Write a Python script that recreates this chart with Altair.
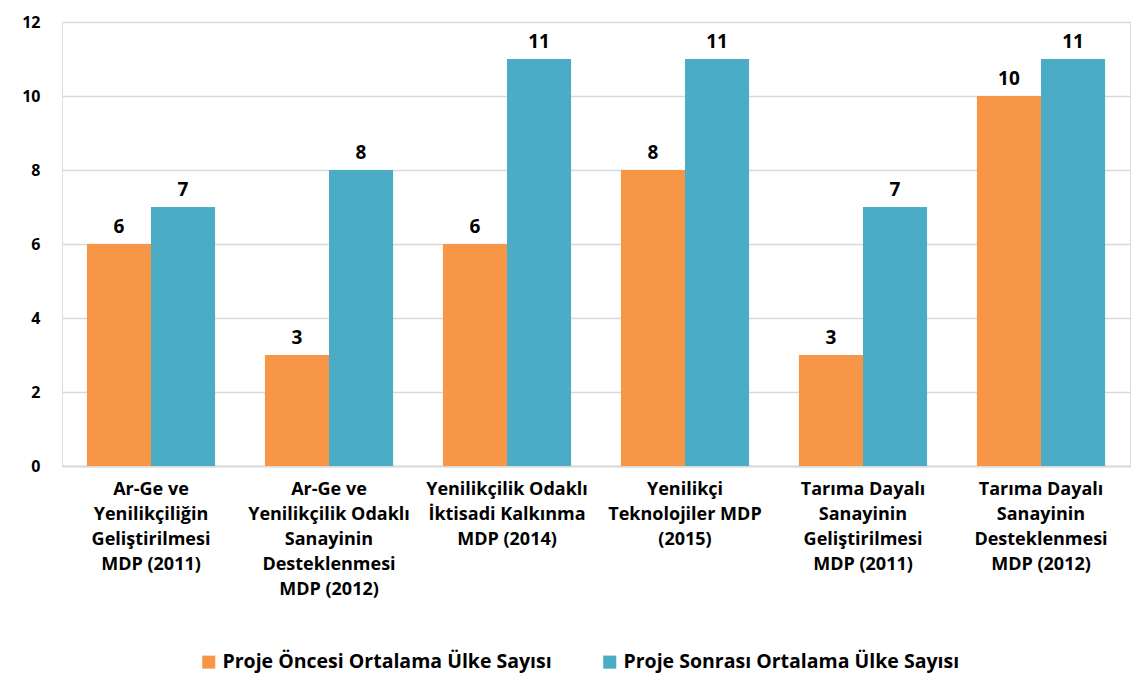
import altair as alt
import pandas as pd

categories = [
    "Ar-Ge ve|Yenilikçiliğin|Geliştirilmesi|MDP (2011)",
    "Ar-Ge ve|Yenilikçilik Odaklı|Sanayinin|Desteklenmesi|MDP (2012)",
    "Yenilikçilik Odaklı|İktisadi Kalkınma|MDP (2014)",
    "Yenilikçi|Teknolojiler MDP|(2015)",
    "Tarıma Dayalı|Sanayinin|Geliştirilmesi|MDP (2011)",
    "Tarıma Dayalı|Sanayinin|Desteklenmesi|MDP (2012)",
]
series_names = ["Proje Öncesi Ortalama Ülke Sayısı", "Proje Sonrası Ortalama Ülke Sayısı"]
before = [6, 3, 6, 8, 3, 10]
after = [7, 8, 11, 11, 7, 11]
colors = ["#F79646", "#4BACC6"]

rows = []
for c, b, a in zip(categories, before, after):
    rows.append({"cat": c, "series": series_names[0], "value": b})
    rows.append({"cat": c, "series": series_names[1], "value": a})
df = pd.DataFrame(rows)

FONT = "Open Sans"

x = alt.X("cat:N", sort=categories, title=None,
          scale=alt.Scale(paddingInner=0.28, paddingOuter=0.14),
          axis=alt.Axis(labelExpr="split(datum.label, '|')", labelAngle=0,
                        labelFontSize=18, labelFontWeight="bold", labelFont=FONT,
                        labelColor="#000000", labelLineHeight=25, labelPadding=14,
                        ticks=False, domainColor="#d9d9d9", domainWidth=2,
                        labelLimit=240))
xo = alt.XOffset("series:N", sort=series_names)
y = alt.Y("value:Q", title=None,
          scale=alt.Scale(domain=[0, 12]),
          axis=alt.Axis(values=[0, 2, 4, 6, 8, 10, 12], labelFontSize=16,
                        labelFontWeight="bold", labelFont=FONT, labelColor="#000000",
                        labelPadding=22, ticks=False, domain=False,
                        gridColor="#d9d9d9", gridWidth=1.5))
color = alt.Color("series:N", sort=series_names,
                  scale=alt.Scale(domain=series_names, range=colors),
                  legend=alt.Legend(title=None, orient="none", direction="horizontal",
                                    legendX=137, legendY=630, symbolType="square",
                                    symbolSize=170, symbolStrokeWidth=0,
                                    labelFontSize=19.5, labelFontWeight="bold",
                                    labelFont=FONT, labelColor="#000000",
                                    columnPadding=48, labelLimit=420, symbolOffset=0))

bars = alt.Chart(df).mark_bar(opacity=1).encode(x=x, xOffset=xo, y=y, color=color)
labels = alt.Chart(df).mark_text(dy=-17, fontSize=19, fontWeight="bold",
                                 font=FONT, color="#000000").encode(
    x=x, xOffset=xo, y=y, text="value:Q")

chart = (bars + labels).properties(
    width=1068, height=444,
    autosize=alt.AutoSizeParams(type="none"),
    padding={"left": 54, "top": 14, "right": 6, "bottom": 214},
).configure_view(stroke=None).configure(background="#ffffff")

chart.save("out.html", embed_options={"renderer": "svg", "actions": False})
